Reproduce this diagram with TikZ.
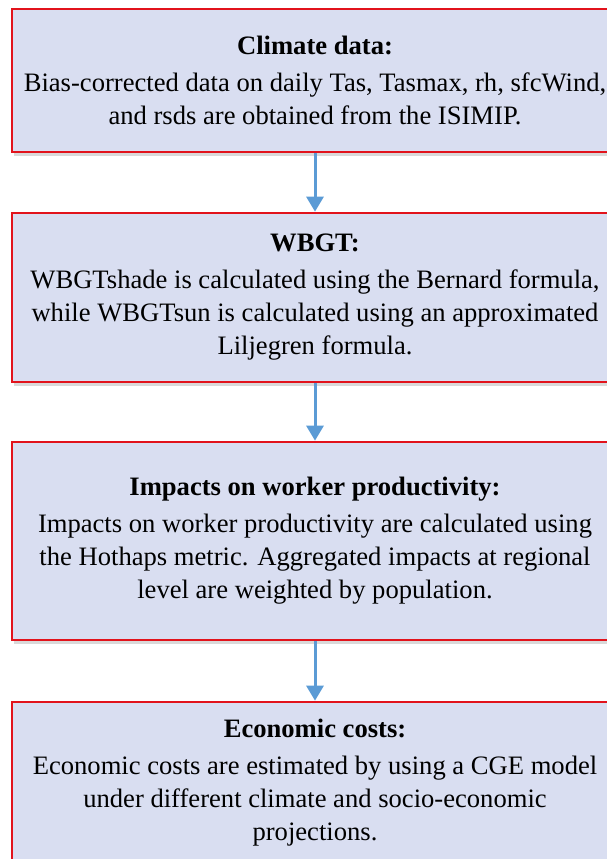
\documentclass[tikz,border=0pt]{standalone}
\usepackage{fontspec}
\setmainfont{Liberation Serif}
\usetikzlibrary{arrows.meta,shadows}
\definecolor{boxfill}{HTML}{D9DEF1}
\definecolor{boxline}{HTML}{E2131C}
\definecolor{flow}{HTML}{5B9BD5}
\begin{document}
\begin{tikzpicture}[x=1pt, y=-1pt,
    stepbox/.style={rectangle, draw=boxline, line width=2.7pt, fill=boxfill,
      minimum width=606pt, align=center, inner sep=0pt,
      font=\fontsize{26.6}{33}\selectfont,
      drop shadow={shadow xshift=1.5pt, shadow yshift=-3.5pt, opacity=0.3, fill=black!50}},
    flw/.style={draw=flow, line width=3pt, -{Triangle[width=17pt,length=15pt]}}]
  \useasboundingbox (0,0) rectangle (606,859);
  \node[stepbox, minimum height=143pt] (clim) at (315,80.5)
    {\textbf{Climate data:}\\[4pt]Bias-corrected data on daily Tas, Tasmax, rh, sfcWind,\\and rsds are obtained from the ISIMIP.};
  \node[stepbox, minimum height=169pt] (wbgt) at (315,297.5)
    {\textbf{WBGT:}\\[4pt]WBGTshade is calculated using the Bernard formula,\\while WBGTsun is calculated using an approximated\\Liljegren formula.};
  \node[stepbox, minimum height=198pt] (impa) at (315,541)
    {\textbf{Impacts on worker productivity:}\\[4pt]Impacts on worker productivity are calculated using\\the Hothaps metric. Aggregated impacts at regional\\level are weighted by population.};
  \node[stepbox, minimum height=161pt] (econ) at (315,782.5)
    {\textbf{Economic costs:}\\[4pt]Economic costs are estimated by using a CGE model\\under different climate and socio-economic\\projections.};
  \draw[flw] (clim) -- (wbgt);
  \draw[flw] (wbgt) -- (impa);
  \draw[flw] (impa) -- (econ);
\end{tikzpicture}
\end{document}
